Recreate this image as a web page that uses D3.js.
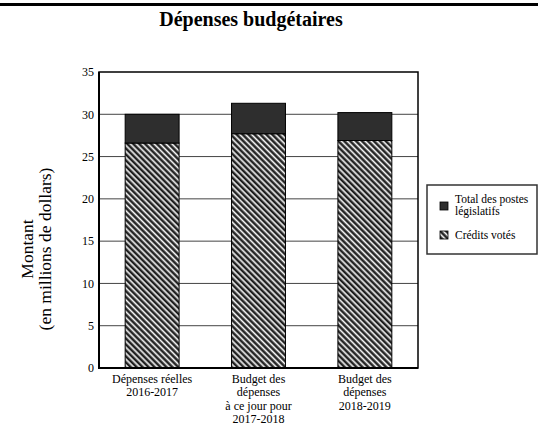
<!DOCTYPE html>
<html><head><meta charset="utf-8">
<script src="https://cdn.jsdelivr.net/npm/d3@7"></script>
<style>body{margin:0;background:#fff}svg{display:block}</style>
</head><body><svg id="c" width="538" height="428"></svg>
<script>
const categories = [["Dépenses réelles","2016-2017"],["Budget des","dépenses","à ce jour pour","2017-2018"],["Budget des","dépenses","2018-2019"]];
const categoryKeys = ["2016-2017","2017-2018","2018-2019"];
const creditsVotes = [26.6, 27.7, 26.9];
const postesLegislatifs = [3.4, 3.6, 3.3];
const yTicks = [0,5,10,15,20,25,30,35];
const seriesNames = ["Total des postes législatifs","Crédits votés"];

const FONT = '"Liberation Serif", "Times New Roman", Times, serif';
const svg = d3.select("#c");
const defs = svg.append("defs");
const pat = defs.append("pattern").attr("id","hatch").attr("patternUnits","userSpaceOnUse")
  .attr("width",4.2).attr("height",4.2).attr("patternTransform","rotate(-45)");
pat.append("rect").attr("width",4.2).attr("height",4.2).attr("fill","#fff");
pat.append("rect").attr("x",0).attr("width",1.6).attr("height",4.2).attr("fill","#111");
pat.append("rect").attr("x",1.6).attr("width",0.9).attr("height",4.2).attr("fill","#777");
pat.append("rect").attr("x",3.3).attr("width",0.9).attr("height",4.2).attr("fill","#999");

svg.append("rect").attr("x",0).attr("y",3).attr("width",538).attr("height",3).attr("fill","#000");
svg.append("text").attr("x",251).attr("y",26).attr("text-anchor","middle")
  .attr("font-family",FONT).attr("font-size",20).attr("font-weight","bold").text("Dépenses budgétaires");

const L=99,R=418,T=72,B=368;
const x = d3.scaleBand().domain(categoryKeys).range([L,R]).paddingInner(0.493).paddingOuter(0.246);
const y = d3.scaleLinear().domain([0,35]).range([B,T]);

svg.append("g").selectAll("line").data(yTicks.filter(t=>t>0&&t<35)).join("line")
  .attr("x1",L).attr("x2",R).attr("y1",d=>y(d)).attr("y2",d=>y(d))
  .attr("stroke","#444").attr("stroke-width",1);

const g = svg.append("g");
categoryKeys.forEach((k,i)=>{
  g.append("rect").attr("x",x(k)).attr("width",x.bandwidth())
   .attr("y",y(creditsVotes[i])).attr("height",y(0)-y(creditsVotes[i]))
   .attr("fill","url(#hatch)").attr("stroke","#000").attr("stroke-width",1);
  const top = creditsVotes[i]+postesLegislatifs[i];
  g.append("rect").attr("x",x(k)).attr("width",x.bandwidth())
   .attr("y",y(top)).attr("height",y(creditsVotes[i])-y(top))
   .attr("fill","#2e2e2e").attr("stroke","#000").attr("stroke-width",1);
});

svg.append("rect").attr("x",L).attr("y",T).attr("width",R-L).attr("height",B-T)
  .attr("fill","none").attr("stroke","#000").attr("stroke-width",1.5);
svg.append("line").attr("x1",L).attr("x2",L).attr("y1",T).attr("y2",B+1).attr("stroke","#000").attr("stroke-width",2);
svg.append("line").attr("x1",L-1).attr("x2",R).attr("y1",B).attr("y2",B).attr("stroke","#000").attr("stroke-width",2);

const yAxis = d3.axisLeft(y).tickValues(yTicks).tickSize(0).tickPadding(5);
const ya = svg.append("g").attr("transform",`translate(${L},0)`).call(yAxis)
  .attr("font-family",FONT).attr("font-size",12);
ya.select(".domain").remove();
ya.selectAll("text").attr("fill","#000");

const xl = svg.append("g");
categoryKeys.forEach((k,i)=>{
  const cx = x(k)+x.bandwidth()/2;
  const t = xl.append("text").attr("x",cx).attr("y",383).attr("text-anchor","middle")
    .attr("font-family",FONT).attr("font-size",12);
  categories[i].forEach((line,j)=>{
    t.append("tspan").attr("x",cx).attr("dy",j===0?0:13.3).text(line);
  });
});

const yt = svg.append("text").attr("transform","translate(0,249) rotate(-90)").attr("text-anchor","middle")
  .attr("font-family",FONT).attr("font-size",17.5);
yt.append("tspan").attr("x",0).attr("y",33).text("Montant");
yt.append("tspan").attr("x",0).attr("y",51).text("(en millions de dollars)");

svg.append("rect").attr("x",427).attr("y",185).attr("width",110).attr("height",69)
  .attr("fill","#fff").attr("stroke","#333").attr("stroke-width",1.5);
svg.append("rect").attr("x",440).attr("y",202).attr("width",8).attr("height",8).attr("fill","#2e2e2e").attr("stroke","#000").attr("stroke-width",0.8);
const lt = svg.append("text").attr("x",455).attr("y",203).attr("font-family",FONT).attr("font-size",11.5);
lt.append("tspan").attr("x",455).attr("dy",0).text("Total des postes");
lt.append("tspan").attr("x",455).attr("dy",12).text("législatifs");
svg.append("rect").attr("x",440).attr("y",231).attr("width",8).attr("height",8).attr("fill","url(#hatch)").attr("stroke","#000").attr("stroke-width",0.8);
svg.append("text").attr("x",455).attr("y",239).attr("font-family",FONT).attr("font-size",11.5).text(seriesNames[1]);
</script></body></html>
